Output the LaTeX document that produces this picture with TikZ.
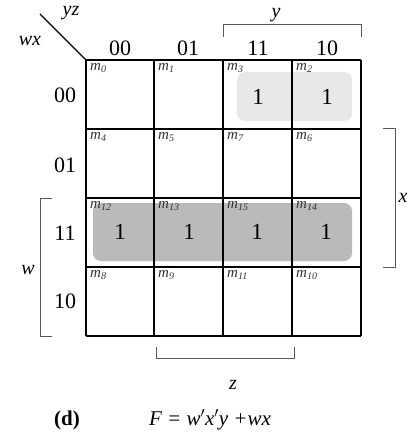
\documentclass[tikz,border=0pt]{standalone}
\usepackage{fontspec}
\setmainfont{Liberation Serif}
\newcommand{\mlab}[1]{m\raisebox{-0.35ex}{\fontsize{10}{10}\selectfont #1}}
\begin{document}
\begin{tikzpicture}[x=1pt,y=-1pt,
  grid/.style={line width=1.6pt,black},
  brk/.style={line width=1pt,draw=black!65},
  hdr/.style={font=\fontsize{22}{22}\selectfont,inner sep=0pt},
  one/.style={font=\fontsize{23}{23}\selectfont,inner sep=0pt},
  mt/.style={font=\fontsize{15}{15}\selectfont\itshape,text=black!80,inner sep=0pt,anchor=north west},
  var/.style={font=\fontsize{20}{20}\selectfont\itshape,inner sep=0pt},
  grpL/.style={fill=black!9,rounded corners=8pt},
  grpD/.style={fill=black!27,rounded corners=8pt}]
\useasboundingbox (0,0) rectangle (409,446);
% groups
\fill[grpL] (237,72) rectangle (352,121);
\fill[grpD] (93,203) rectangle (352,261);
% grid
\coordinate (g00) at (86,60);
\foreach \x in {86,154,223,292,361} \draw[grid] (\x,60) -- (\x,336);
\foreach \y in {60,129,198,267,336} \draw[grid] (86,\y) -- (361,\y);
% diagonal
\coordinate (dA) at (40,14);
\draw[line width=1.3pt] (dA) -- (g00);
\node[var] (yz) at (71,13) {yz};
\node[var] (wx) at (30,41) {wx};
% column headers
\node[hdr] (c0) at (120,48) {00};
\node[hdr] (c1) at (188,48) {01};
\node[hdr] (c2) at (258,48) {11};
\node[hdr] (c3) at (327,48) {10};
% row headers
\node[hdr] (r0) at (65,95) {00};
\node[hdr] (r1) at (65,165) {01};
\node[hdr] (r2) at (65,233) {11};
\node[hdr] (r3) at (65,301) {10};
% minterms
\node[mt] (m0) at (90,63) {\mlab{0}};
\node[mt] (m1) at (158,63) {\mlab{1}};
\node[mt] (m3) at (227,63) {\mlab{3}};
\node[mt] (m2) at (296,63) {\mlab{2}};
\node[mt] (m4) at (90,132) {\mlab{4}};
\node[mt] (m5) at (158,132) {\mlab{5}};
\node[mt] (m7) at (227,132) {\mlab{7}};
\node[mt] (m6) at (296,132) {\mlab{6}};
\node[mt] (m12) at (90,201) {\mlab{12}};
\node[mt] (m13) at (158,201) {\mlab{13}};
\node[mt] (m15) at (227,201) {\mlab{15}};
\node[mt] (m14) at (296,201) {\mlab{14}};
\node[mt] (m8) at (90,270) {\mlab{8}};
\node[mt] (m9) at (158,270) {\mlab{9}};
\node[mt] (m11) at (227,270) {\mlab{11}};
\node[mt] (m10) at (296,270) {\mlab{10}};
% ones
\node[one] (o3) at (258,97) {1};
\node[one] (o2) at (327,97) {1};
\node[one] (o12) at (120,232) {1};
\node[one] (o13) at (189,232) {1};
\node[one] (o15) at (257,232) {1};
\node[one] (o14) at (326,232) {1};
% y bracket
\coordinate (ya) at (223,37); \coordinate (yb) at (361,37);
\draw[brk] (ya) -- (223,25) -- (361,25) -- (yb);
\node[var] (ylab) at (276,15) {y};
% x bracket
\coordinate (xa) at (383,129); \coordinate (xb) at (383,267);
\draw[brk] (xa) -- (395,129) -- (395,267) -- (xb);
\node[var] (xlab) at (403,198) {x};
% w bracket
\coordinate (wa) at (52,198); \coordinate (wb) at (52,336);
\draw[brk] (wa) -- (40,198) -- (40,336) -- (wb);
\node[var] (wlab) at (28,270) {w};
% z bracket
\coordinate (za) at (156,347); \coordinate (zb) at (294,347);
\draw[brk] (za) -- (156,358) -- (294,358) -- (zb);
\node[var] (zlab) at (233,385) {z};
% caption
\node[font=\fontsize{21}{21}\selectfont\bfseries,inner sep=0pt] (d) at (67,420) {(d)};
\node[font=\fontsize{21}{21}\selectfont\itshape,inner sep=0pt] (F) at (210,420) {F = w$'$x$'$y +wx};
\end{tikzpicture}
\end{document}
